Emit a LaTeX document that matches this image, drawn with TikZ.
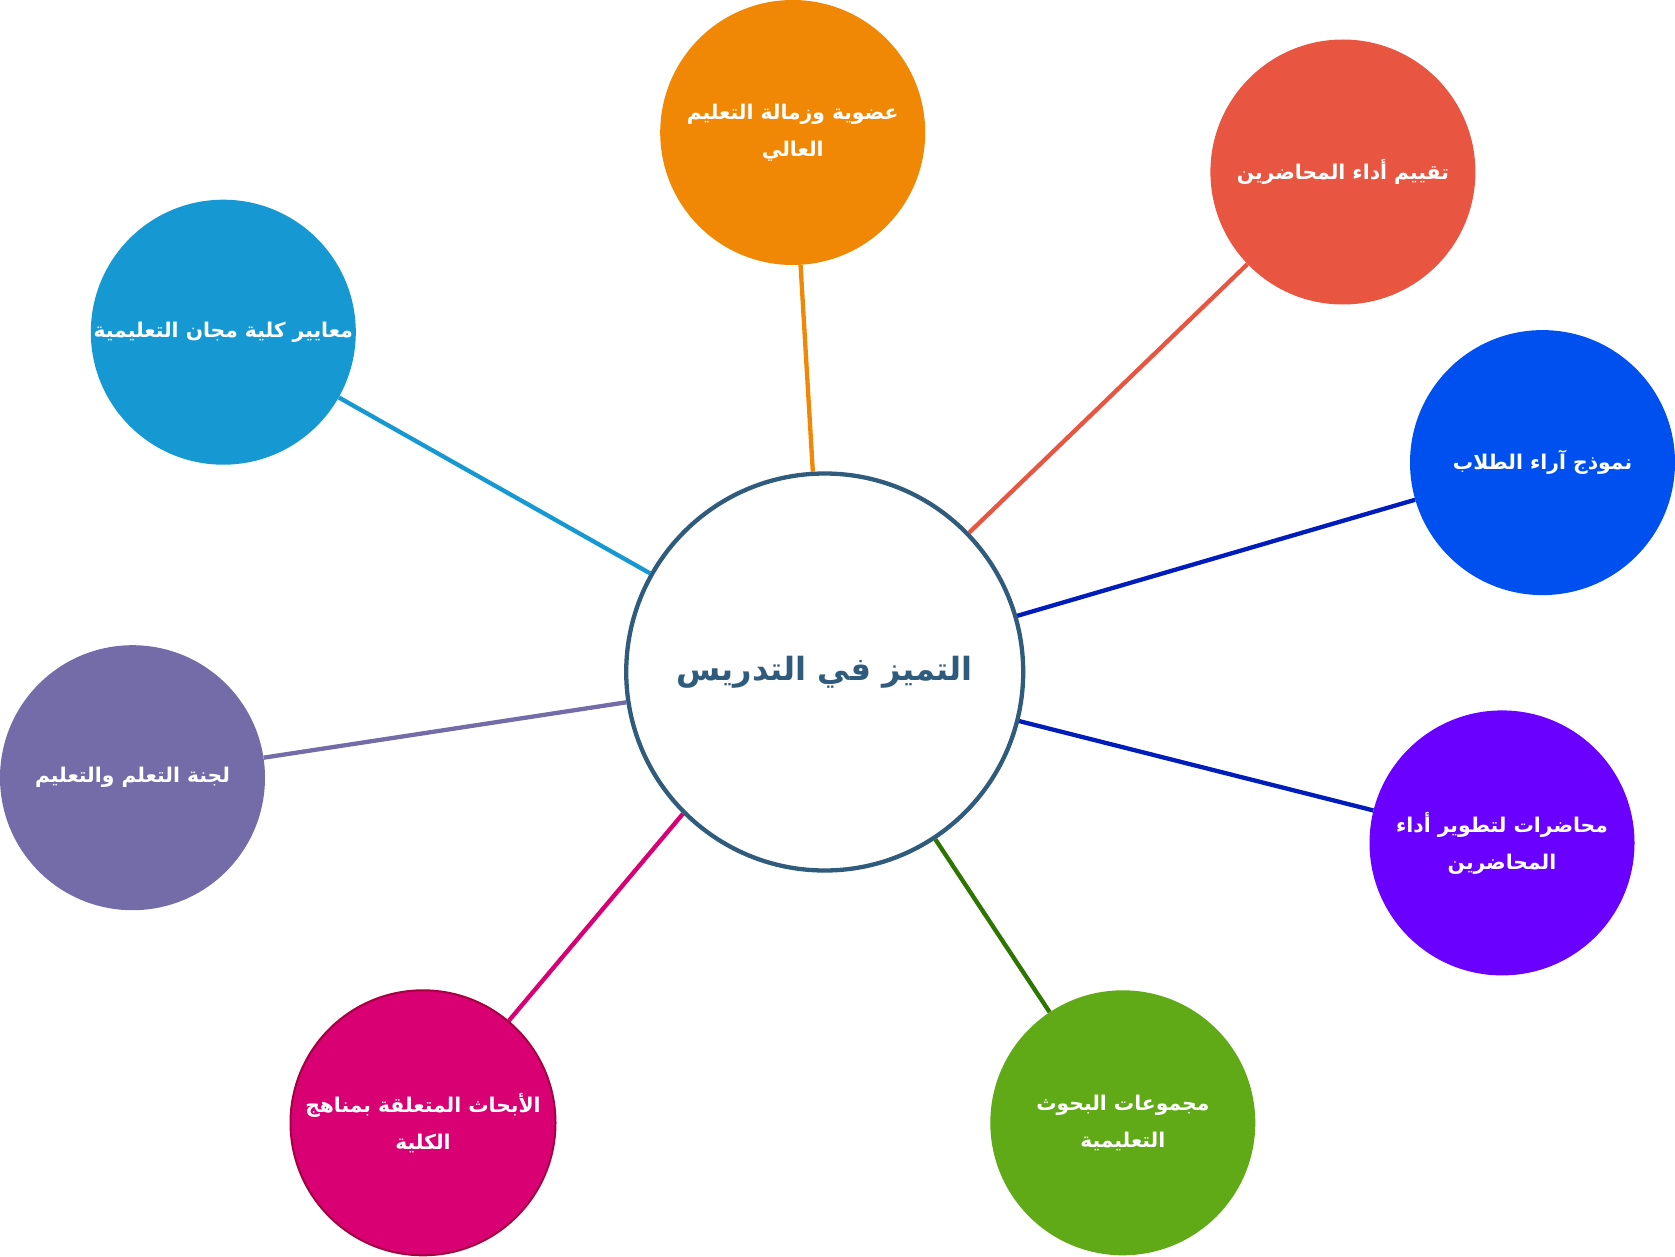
\documentclass[tikz,border=0pt]{standalone}
\usepackage{fontspec}
\TeXXeTstate=1
\newfontfamily\arabicfont[Script=Arabic]{DejaVu Sans}
\definecolor{corange}{HTML}{F08705}
\definecolor{cred}{HTML}{E85642}
\definecolor{cblue}{HTML}{0050EF}
\definecolor{cpurple}{HTML}{6A00FF}
\definecolor{cgreen}{HTML}{60A917}
\definecolor{cmagenta}{HTML}{D80073}
\definecolor{cmagentaline}{HTML}{A50040}
\definecolor{clav}{HTML}{736CA8}
\definecolor{ccyan}{HTML}{1699D3}
\definecolor{ccenter}{HTML}{2F5B7C}
\definecolor{cdarkblue}{HTML}{001DBC}
\definecolor{cdarkgreen}{HTML}{2D7600}
\begin{document}
\begin{tikzpicture}[x=1pt,y=-1pt,
  sat/.style={circle, minimum size=265pt, inner sep=0pt, text=white, align=center,
    font=\arabicfont\bfseries\fontsize{20.3}{37}\selectfont},
  hub/.style={circle, minimum size=397pt, inner sep=0pt, draw=ccenter, line width=4.3pt, fill=white,
    text=ccenter, font=\arabicfont\bfseries\fontsize{32}{40}\selectfont},
  link/.style={line width=4.3pt}]
\useasboundingbox (0,0) rectangle (1675,1257);
\node[hub] (c) at (824.7,672.0) {\beginR التميز في التدريس\endR};
\node[sat, fill=corange] (o) at (792.7,132.5) {\beginR عضوية وزمالة التعليم\endR\\\beginR العالي\endR};
\node[sat, fill=cred] (r) at (1342.9,172.0) {\beginR تقييم أداء المحاضرين\endR};
\node[sat, fill=cblue] (b) at (1542.5,462.6) {\beginR نموذج آراء الطلاب\endR};
\node[sat, fill=cpurple] (p) at (1502.0,842.9) {\beginR محاضرات لتطوير أداء\endR\\\beginR المحاضرين\endR};
\node[sat, fill=cgreen] (g) at (1122.8,1122.8) {\beginR مجموعات البحوث\endR\\\beginR التعليمية\endR};
\node[sat, fill=cmagenta, draw=cmagentaline, line width=2pt] (m) at (423.0,1122.8) {\beginR الأبحاث المتعلقة بمناهج\endR\\\beginR الكلية\endR};
\node[sat, fill=clav] (l) at (132.5,777.7) {\beginR لجنة التعلم والتعليم\endR};
\node[sat, fill=ccyan] (k) at (223.3,332.2) {\beginR معايير كلية مجان التعليمية\endR};
\draw[link, corange] (c) -- (o);
\draw[link, cred] (c) -- (r);
\draw[link, cdarkblue] (c) -- (b);
\draw[link, cdarkblue] (c) -- (p);
\draw[link, cdarkgreen] (c) -- (g);
\draw[link, cmagenta] (c.225) -- (m);
\draw[link, clav] (c) -- (l);
\draw[link, ccyan] (c) -- (k);
\end{tikzpicture}
\end{document}
